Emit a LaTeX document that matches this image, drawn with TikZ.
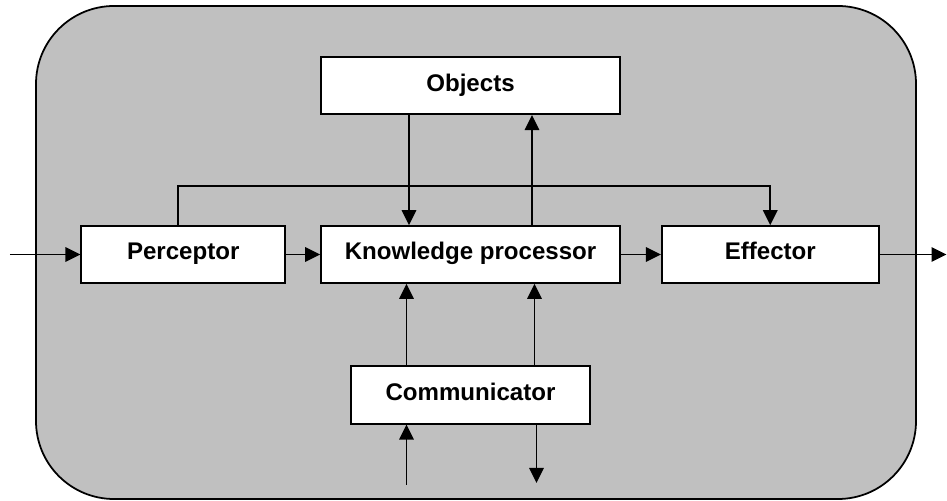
\documentclass[tikz,border=0pt]{standalone}
\usepackage{fontspec}
\setmainfont{Liberation Sans}
\usetikzlibrary{positioning,arrows.meta,calc}
\definecolor{panelgray}{RGB}{192,192,192}

\begin{document}
\begin{tikzpicture}[
    unit/.style={rectangle, draw, line width=1pt, fill=white, minimum height=1.14cm, inner sep=0pt, text height=9.9pt, text depth=3.9pt, font=\fontsize{13.7}{16}\selectfont\bfseries},
    flow/.style={line width=1pt, -{Triangle[length=0.3cm, width=0.29cm]}}
]
    \useasboundingbox (0,0) rectangle (18.94,10.02);
    % agent boundary
    \draw[line width=1pt, fill=panelgray, rounded corners=1.56cm] (0.72,0.04) rectangle (18.32,9.90);

    \node[unit, minimum width=5.98cm] (kp) at (9.41,4.93) {Knowledge processor};
    \node[unit, minimum width=4.08cm, left=0.68cm of kp] (perceptor) {Perceptor};
    \node[unit, minimum width=4.34cm, right=0.8cm of kp] (effector) {Effector};
    \node[unit, minimum width=5.98cm, above=2.2cm of kp] (objects) {Objects};
    \node[unit, minimum width=4.78cm, minimum height=1.16cm, below=1.62cm of kp] (comm) {Communicator};

    \coordinate (in) at (0.2,4.93);
    \coordinate (out) at (18.93,4.93);
    \coordinate (cin) at (8.13,0.32);
    \coordinate (cout) at (10.73,0.36);

    \draw[flow] (in) -- (perceptor);
    \draw[flow] (perceptor) -- (kp);
    \draw[flow] (kp) -- (effector);
    \draw[flow] (effector) -- (out);
    \draw[flow] ($(objects.south)+(-1.23,0)$) -- ($(kp.north)+(-1.23,0)$);
    \draw[flow] ($(kp.north)+(1.23,0)$) -- ($(objects.south)+(1.23,0)$);
    \draw[flow] ($(comm.north)+(-1.28,0)$) -- ($(kp.south)+(-1.28,0)$);
    \draw[flow] ($(comm.north)+(1.28,0)$) -- ($(kp.south)+(1.28,0)$);
    \draw[flow] (cin) -- (cin |- comm.south);
    \draw[flow] (comm.south -| cout) -- (cout);
    % perceptor straight to effector
    \draw[flow] ($(perceptor.north)+(-0.1,0)$) -- ++(0,0.78) -| (effector.north);
\end{tikzpicture}
\end{document}
